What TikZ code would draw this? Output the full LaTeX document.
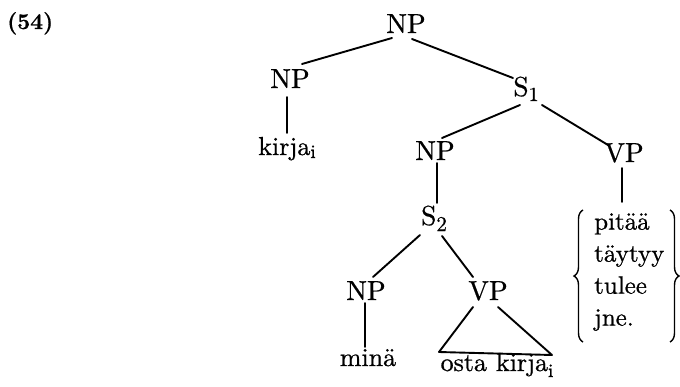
\documentclass[tikz,border=0pt]{standalone}
\usepackage{fontspec}
\setmainfont{lmroman10-regular.otf}[BoldFont=lmroman10-bold.otf]
\newfontfamily\heavy{lmroman10-regular.otf}[FakeBold=0.7]
\newfontfamily\heavybf{lmroman10-bold.otf}[FakeBold=0.6]
\usetikzlibrary{decorations.pathreplacing}
\newcommand\lsub[3][5pt]{\raisebox{-#1}{\fontsize{#2}{#2}\selectfont #3}}
\begin{document}
\begin{tikzpicture}[x=1pt,y=-1pt,
  cat/.style={anchor=base, inner sep=0pt, font=\heavy\fontsize{27.5}{32}\selectfont},
  lab/.style={anchor=base, inner sep=0pt, font=\heavy\fontsize{26}{32}\selectfont},
  tl/.style={line width=1.9pt, line cap=round, line join=round},
  brc/.style={line width=1.4pt, decorate, decoration={brace, amplitude=9pt}}]
\useasboundingbox (0,0) rectangle (680,386);
\node[anchor=base west, inner sep=0pt, font=\heavybf\fontsize{22.5}{24}\selectfont] (ex) at (7,29) {(54)};
\node[cat] (np0) at (406,33) {NP};
\node[cat] (np1) at (290,88) {NP};
\node[cat] (s1) at (526,96) {S\lsub[5pt]{20}{1}};
\node[lab] (kirja) at (287,155) {kirja\lsub[3pt]{19}{i}};
\node[cat] (np2) at (435,160) {NP};
\node[cat] (vp1) at (624,162) {VP};
\node[cat] (s2) at (434,225) {S\lsub[6pt]{21}{2}};
\node[cat] (np3) at (366,300) {NP};
\node[cat] (vp2) at (488,300) {VP};
\node[lab] (mina) at (368,366) {minä};
\node[lab] (osta) at (497,371) {osta\hspace{9pt}kirja\lsub[6pt]{19}{i}};
\node[anchor=north west, inner sep=0pt, align=left, font=\heavy\fontsize{25}{32}\selectfont] (alts) at (594,213) {pitää\\täytyy\\tulee\\jne.};
% tree lines
\draw[tl] ([shift={(-14,5)}]np0.base) -- ([shift={(12,-24)}]np1.base);
\draw[tl] ([shift={(6,6)}]np0.base) -- ([shift={(-13,-18)}]s1.base);
\draw[tl] ([shift={(-3,9)}]np1.base) -- ([shift={(0,-22)}]kirja.base);
\draw[tl] ([shift={(-6,9)}]s1.base) -- ([shift={(7,-22)}]np2.base);
\draw[tl] ([shift={(16,9)}]s1.base) -- ([shift={(-16,-17)}]vp1.base);
\draw[tl] ([shift={(2,3)}]np2.base) -- ([shift={(3,-22)}]s2.base);
\draw[tl] ([shift={(-14,10)}]s2.base) -- ([shift={(7,-23)}]np3.base);
\draw[tl] ([shift={(8,11)}]s2.base) -- ([shift={(-15,-23)}]vp2.base);
\draw[tl] ([shift={(-1,3)}]np3.base) -- ([shift={(-3,-19)}]mina.base);
\draw[tl] ([shift={(-2,6)}]vp1.base) -- ([shift={(28,-11)}]alts.north west);
% triangle
\coordinate (tri1) at ([shift={(-58,-19)}]osta.base);
\coordinate (tri2) at ([shift={(55,-16)}]osta.base);
\draw[tl] ([shift={(-15,7)}]vp2.base) -- (tri1) -- (tri2) -- ([shift={(10,7)}]vp2.base);
% braces
\coordinate (lbt) at (583,210);
\coordinate (lbb) at (583,342);
\coordinate (rbt) at (670,210);
\coordinate (rbb) at (670,342);
\draw[brc] (lbb) -- (lbt);
\draw[brc] (rbt) -- (rbb);
\end{tikzpicture}
\end{document}
